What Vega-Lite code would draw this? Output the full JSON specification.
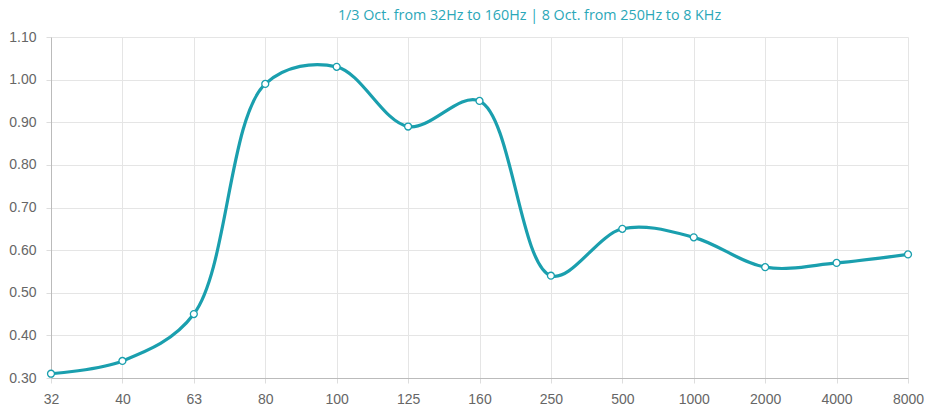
{
  "$schema": "https://vega.github.io/schema/vega-lite/v6.json",
  "width": 857,
  "height": 341,
  "autosize": {"type": "none"},
  "padding": {"left": 51, "top": 37, "right": 20, "bottom": 32},
  "background": "white",
  "title": {
    "text": "1/3 Oct. from 32Hz to 160Hz | 8 Oct. from 250Hz to 8 KHz",
    "color": "#2ba7b8",
    "font": "Open Sans",
    "fontSize": 14.3,
    "fontWeight": "normal",
    "anchor": "middle",
    "dx": 50,
    "offset": 7
  },
  "data": {
    "values": [
      {"freq": "32", "value": 0.31},
      {"freq": "40", "value": 0.34},
      {"freq": "63", "value": 0.45},
      {"freq": "80", "value": 0.99},
      {"freq": "100", "value": 1.03},
      {"freq": "125", "value": 0.89},
      {"freq": "160", "value": 0.95},
      {"freq": "250", "value": 0.54},
      {"freq": "500", "value": 0.65},
      {"freq": "1000", "value": 0.63},
      {"freq": "2000", "value": 0.56},
      {"freq": "4000", "value": 0.57},
      {"freq": "8000", "value": 0.59}
    ]
  },
  "encoding": {
    "x": {
      "field": "freq", "type": "ordinal", "sort": null,
      "scale": {"type": "point", "padding": 0},
      "axis": {"title": null, "labelAngle": 0, "labelFont": "Liberation Sans", "labelFontSize": 14, "labelColor": "#666", "labelPadding": 9,
        "grid": true, "gridColor": "#e5e5e5", "domainColor": "#bbb", "tickColor": "#ddd", "tickSize": 5}
    },
    "y": {
      "field": "value", "type": "quantitative",
      "scale": {"domain": [0.3, 1.1], "nice": false, "zero": false},
      "axis": {"title": null, "values": [0.3,0.4,0.5,0.6,0.7,0.8,0.9,1.0,1.1], "format": ".2f", "labelFont": "Liberation Sans", "labelFontSize": 14, "labelColor": "#666",
        "grid": true, "gridColor": "#e5e5e5", "domainColor": "#bbb", "tickColor": "#ddd", "tickSize": 5, "labelPadding": 10}
    }
  },
  "layer": [
    {"mark": {"type": "line", "interpolate": "catmull-rom", "color": "#1a9fae", "strokeWidth": 3.2}},
    {"mark": {"type": "point", "filled": true, "fill": "white", "stroke": "#1a9fae", "strokeWidth": 1.3, "size": 48, "opacity": 1}}
  ],
  "config": {"view": {"stroke": null}}
}
